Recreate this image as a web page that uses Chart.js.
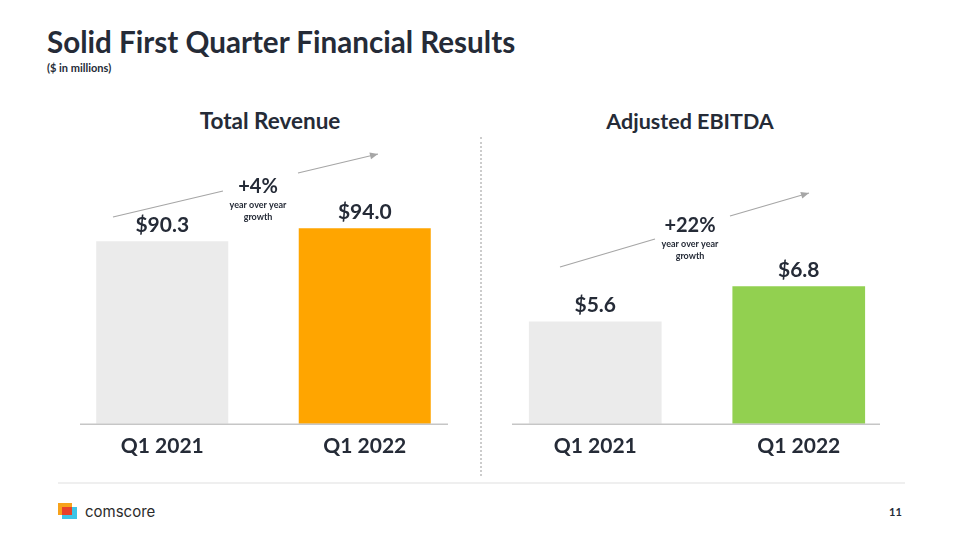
<!DOCTYPE html>
<html><head><meta charset="utf-8">
<script src="https://cdn.jsdelivr.net/npm/chart.js@4.4.1/dist/chart.umd.min.js"></script>
<style>
html,body{margin:0;padding:0;background:#fff;}
body{width:960px;height:540px;position:relative;overflow:hidden;font-family:Lato,sans-serif;color:#252b37;}
.abs{position:absolute;white-space:nowrap;}
#title{left:47px;top:27px;font-size:29.6px;font-weight:700;line-height:30px;}
#sub{left:47px;top:62px;font-size:11px;font-weight:700;line-height:11px;}
.ct{font-size:22.5px;font-weight:700;line-height:22px;top:110px;transform:translateX(-50%);}
#sep{left:480px;top:137px;height:339px;border-left:2px dotted #cccccc;}
#foot{left:58px;top:482px;width:847px;height:2px;background:#efefef;}
#brand{left:85px;top:503px;font-family:Inter,sans-serif;font-size:15px;line-height:18px;color:#2b2b2b;}
#page{left:889px;top:506px;font-size:11px;font-weight:700;line-height:12px;}
.sq{position:absolute;}
canvas{position:absolute;left:0;top:0;}
</style></head>
<body>
<div class="abs" id="title">Solid First Quarter Financial Results</div>
<div class="abs" id="sub">($ in millions)</div>
<div class="abs ct" style="left:270px">Total Revenue</div>
<div class="abs ct" style="left:690px;font-size:21.5px">Adjusted EBITDA</div>
<div class="abs" id="sep"></div>
<div class="abs" id="foot"></div>
<div class="sq" style="left:58px;top:503px;width:14px;height:12px;background:#f7a21b"></div>
<div class="sq" style="left:62px;top:507px;width:15px;height:12px;background:#3cc5e8"></div>
<div class="sq" style="left:62px;top:507px;width:10px;height:8px;background:#e8412b"></div>
<div class="abs" id="brand">comscore</div>
<div class="abs" id="page">11</div>
<canvas id="c1" width="960" height="540"></canvas>
<canvas id="c2" width="960" height="540"></canvas>
<script>
const categories = ['Q1 2021', 'Q1 2022'];
const revenueValues = [90.3, 94.0];
const ebitdaValues = [5.6, 6.8];
const revenueGrowth = '+4%';
const ebitdaGrowth = '+22%';
const growthCaption = ['year over year', 'growth'];

const DARK = '#252b37';

const deco = {
  id: 'deco',
  afterDatasetsDraw(chart, args, o) {
    const ctx = chart.ctx;
    const meta = chart.getDatasetMeta(0);
    const ds = chart.data.datasets[0].data;
    ctx.save();
    ctx.strokeStyle = '#c6c6c6';
    ctx.lineWidth = 1.5;
    ctx.beginPath();
    ctx.moveTo(o.axisFrom, chart.chartArea.bottom + 0.5);
    ctx.lineTo(o.axisTo, chart.chartArea.bottom + 0.5);
    ctx.stroke();
    ctx.fillStyle = DARK;
    ctx.textAlign = 'center';
    ctx.textBaseline = 'alphabetic';
    ctx.font = '700 21px Lato';
    meta.data.forEach((bar, i) => {
      ctx.fillText('$' + ds[i].toFixed(1), bar.x, bar.y - 9);
    });
    ctx.strokeStyle = '#a6a6a6';
    ctx.fillStyle = '#a6a6a6';
    ctx.lineWidth = 1.2;
    const [a, b, c, d] = o.arrow;
    ctx.beginPath();
    ctx.moveTo(a[0], a[1]); ctx.lineTo(b[0], b[1]);
    ctx.moveTo(c[0], c[1]); ctx.lineTo(d[0], d[1]);
    ctx.stroke();
    const ang = Math.atan2(d[1] - c[1], d[0] - c[0]);
    const L = 8, W = 3.5;
    ctx.beginPath();
    ctx.moveTo(d[0], d[1]);
    ctx.lineTo(d[0] - L * Math.cos(ang) + W * Math.sin(ang), d[1] - L * Math.sin(ang) - W * Math.cos(ang));
    ctx.lineTo(d[0] - L * Math.cos(ang) - W * Math.sin(ang), d[1] - L * Math.sin(ang) + W * Math.cos(ang));
    ctx.closePath();
    ctx.fill();
    ctx.fillStyle = DARK;
    ctx.font = '700 20px Lato';
    ctx.fillText(o.growth, o.gx, o.gy);
    ctx.font = '700 9px Lato';
    ctx.fillText(growthCaption[0], o.gx, o.gy + 15);
    ctx.fillText(growthCaption[1], o.gx, o.gy + 27);
    ctx.restore();
  }
};

function makeChart(id, values, color, padL, padR, yMin, yMax, deco_opts) {
  return new Chart(document.getElementById(id), {
    type: 'bar',
    data: {
      labels: categories,
      datasets: [{
        data: values,
        backgroundColor: ['#ebebeb', color],
        borderWidth: 0,
        categoryPercentage: 1,
        barPercentage: 0.652
      }]
    },
    options: {
      responsive: false,
      animation: false,
      events: [],
      layout: { padding: { left: padL, right: padR, top: 140, bottom: 71 } },
      plugins: { legend: { display: false }, tooltip: { enabled: false }, deco: deco_opts },
      scales: {
        x: {
          grid: { display: false, drawTicks: false },
          border: { display: false },
          ticks: { color: DARK, padding: 10, font: { family: 'Lato', size: 21, weight: '700' } }
        },
        y: { display: false, min: yMin, max: yMax }
      }
    },
    plugins: [deco]
  });
}

makeChart('c1', revenueValues, '#ffa500', 61, 494, 38.5, 119, {
  axisFrom: 80, axisTo: 448,
  arrow: [[113, 217], [223, 191], [298, 173], [378, 154]],
  growth: revenueGrowth, gx: 258, gy: 193
});
makeChart('c2', ebitdaValues, '#92d050', 493.5, 59.5, 2.103, 11.8, {
  axisFrom: 512, axisTo: 880,
  arrow: [[560, 267], [655, 239], [730, 216], [809, 193]],
  growth: ebitdaGrowth, gx: 690, gy: 232
});
</script>
</body></html>
